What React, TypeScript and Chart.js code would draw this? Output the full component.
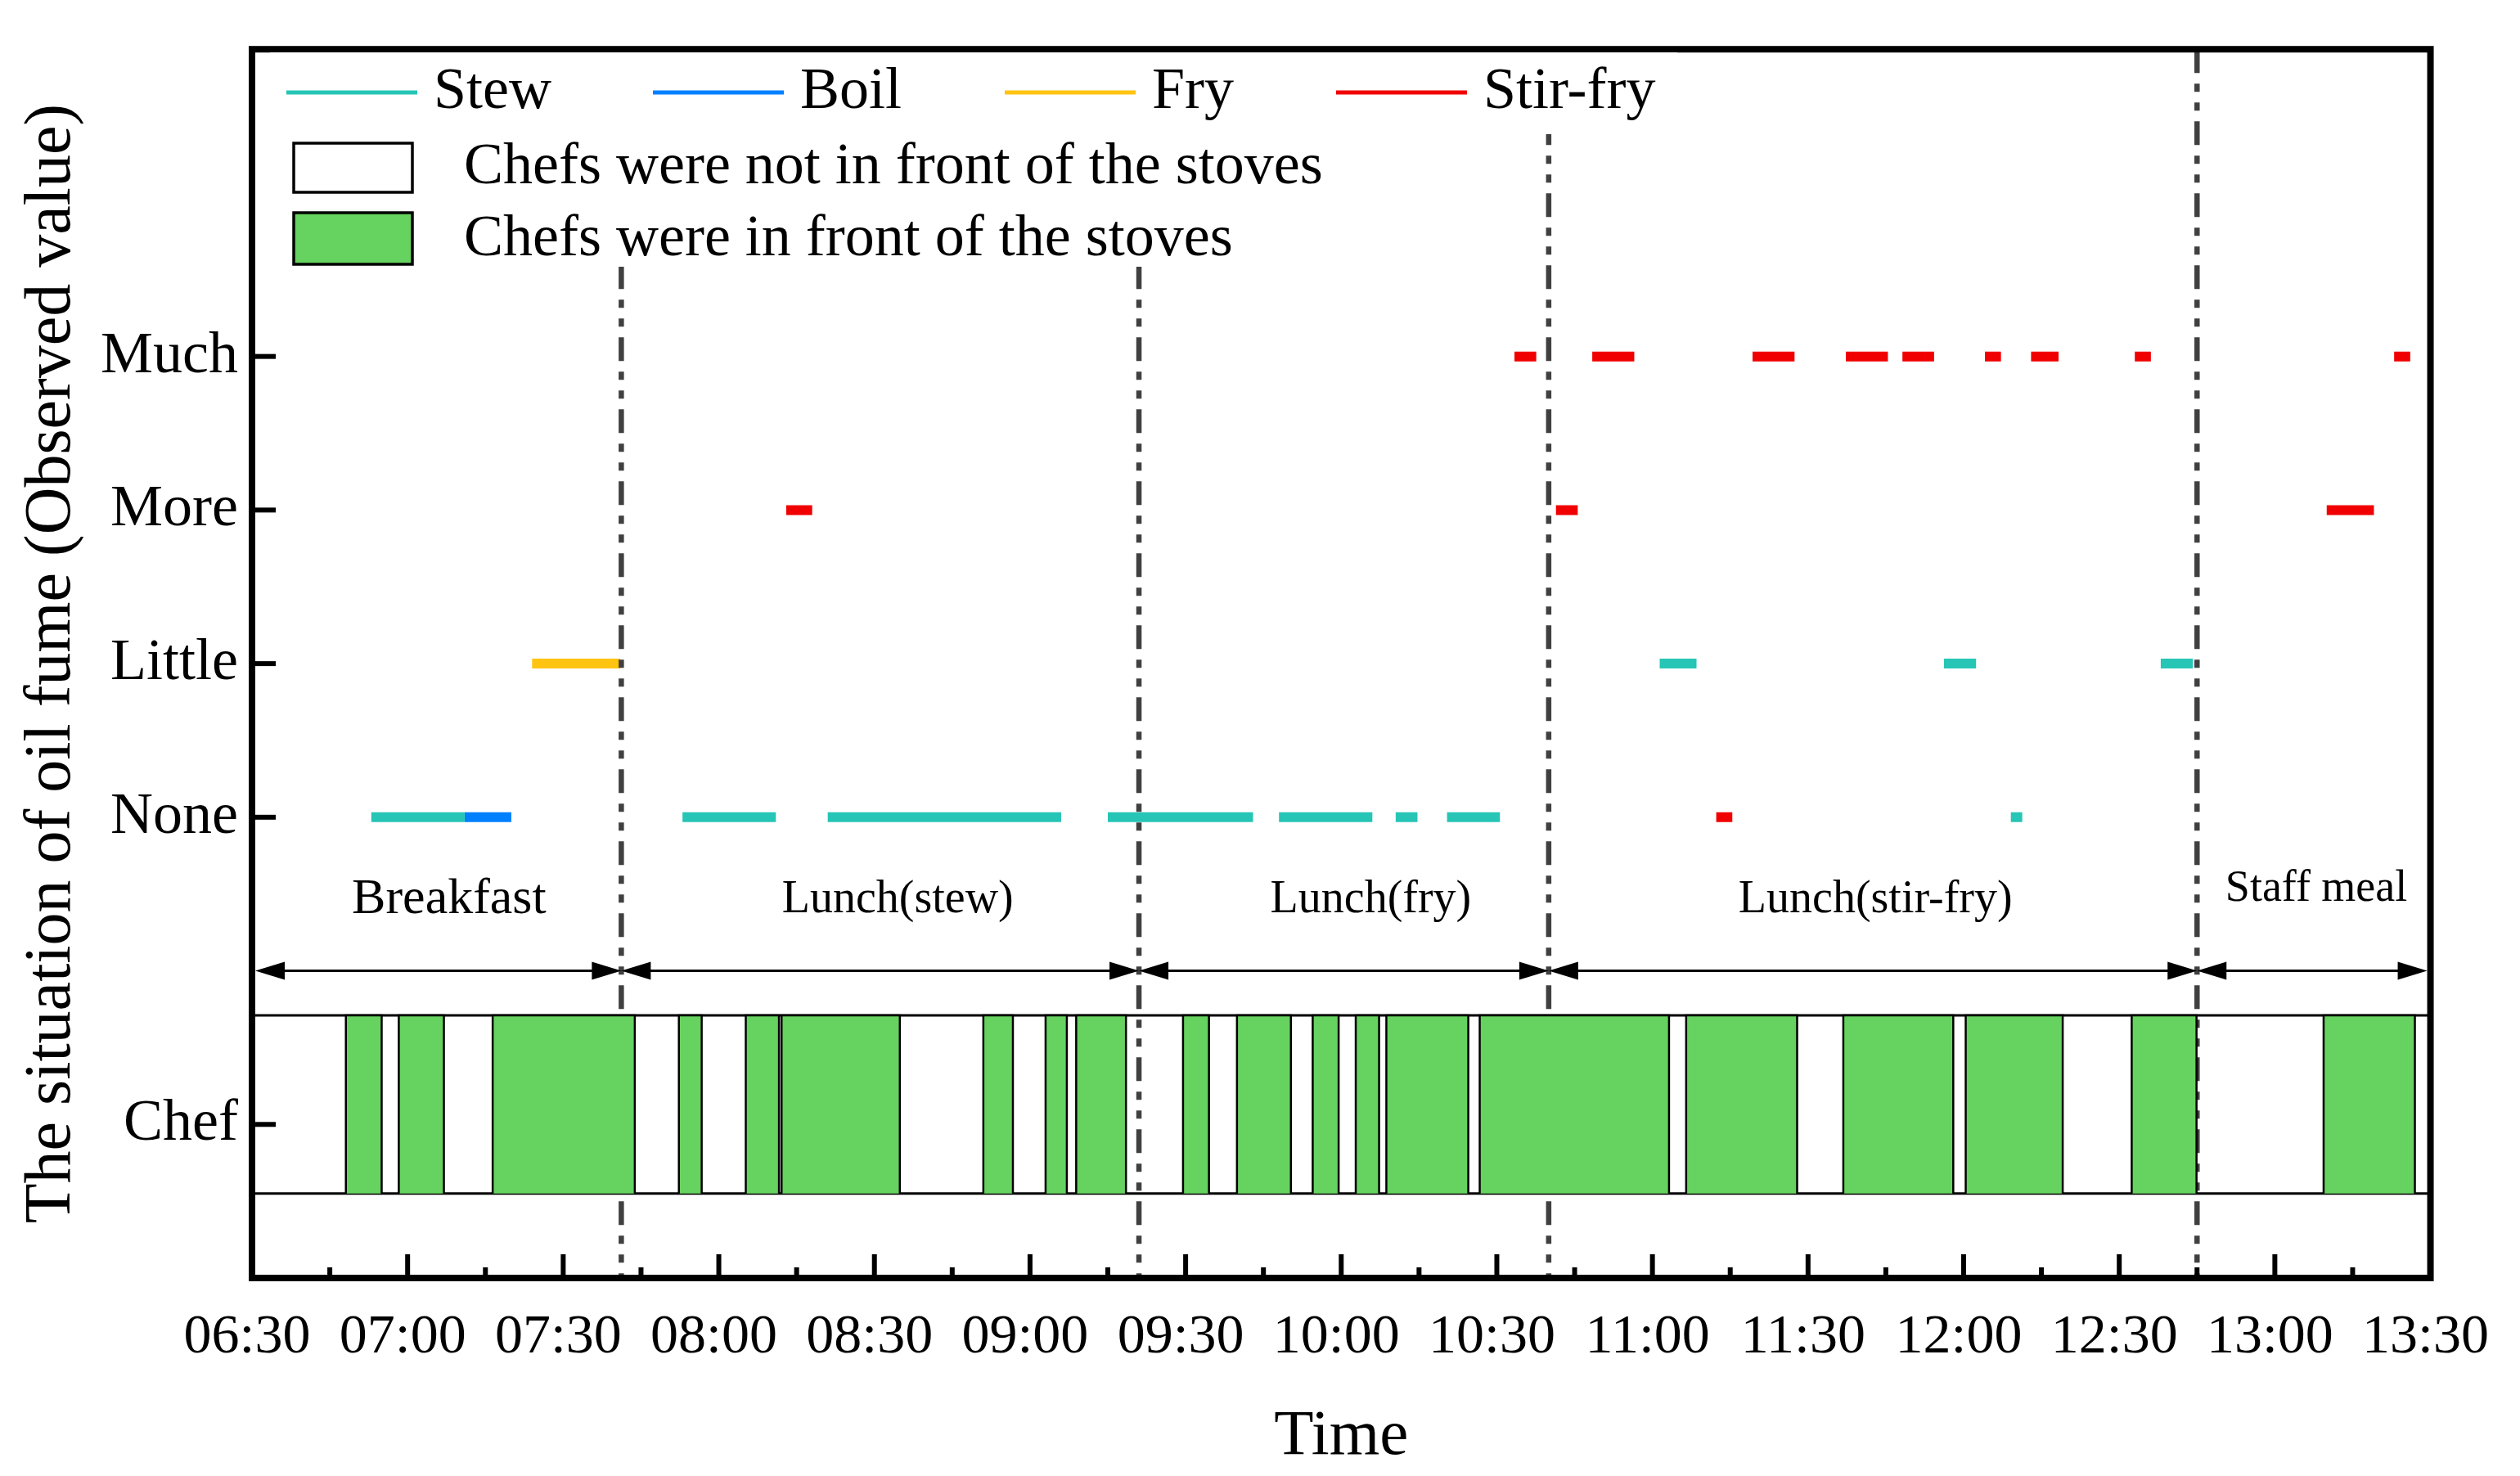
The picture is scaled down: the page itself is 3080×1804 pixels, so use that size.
import React, { useEffect, useRef } from 'react';
import { Chart, registerables } from 'chart.js';

// ---------------- data ----------------
const levelNames = ['Chef', 'None', 'Little', 'More', 'Much'];
const levelValues = [-2, 0, 1, 2, 3];

const xStart = '06:30';
const xEnd = '13:30';
const xMajorStepMin = 30;
const xMinorStepMin = 15;

// [start, end, level]
const stewSegments: [string, string, string][] = [
  ['06:53', '07:11', 'None'],
  ['07:53', '08:11', 'None'],
  ['08:21', '09:06', 'None'],
  ['09:15', '09:43', 'None'],
  ['09:48', '10:06', 'None'],
  ['10:10.5', '10:14.7', 'None'],
  ['10:20.4', '10:30.6', 'None'],
  ['11:01.4', '11:08.5', 'Little'],
  ['11:56.2', '12:02.4', 'Little'],
  ['12:09.1', '12:11.3', 'None'],
  ['12:38', '12:44.2', 'Little'],
];
const boilSegments: [string, string, string][] = [['07:11', '07:20', 'None']];
const frySegments: [string, string, string][] = [['07:24', '07:41', 'Little']];
const stirFrySegments: [string, string, string][] = [
  ['08:13', '08:18', 'More'],
  ['10:33.4', '10:37.6', 'Much'],
  ['10:41.4', '10:45.6', 'More'],
  ['10:48.4', '10:56.5', 'Much'],
  ['11:12.3', '11:15.4', 'None'],
  ['11:19.3', '11:27.4', 'Much'],
  ['11:37.3', '11:45.4', 'Much'],
  ['11:48.2', '11:54.3', 'Much'],
  ['12:04.1', '12:07.2', 'Much'],
  ['12:13', '12:18.3', 'Much'],
  ['12:33', '12:36.1', 'Much'],
  ['13:10', '13:19.1', 'More'],
  ['13:23', '13:26.1', 'Much'],
];

// chefs in front of the stoves
const chefAtStove: [string, string][] = [
  ['06:48.1', '06:55'],
  ['06:58.3', '07:07'],
  ['07:16.4', '07:43.8'],
  ['07:52.3', '07:56.7'],
  ['08:05.2', '08:11.6'],
  ['08:12.1', '08:34.9'],
  ['08:51', '08:56.7'],
  ['09:03', '09:07.1'],
  ['09:08.9', '09:18.5'],
  ['09:29.5', '09:34.5'],
  ['09:39.9', '09:50.3'],
  ['09:54.5', '09:59.5'],
  ['10:02.8', '10:07.3'],
  ['10:08.7', '10:24.5'],
  ['10:26.7', '11:03.2'],
  ['11:06.5', '11:27.9'],
  ['11:36.8', '11:58'],
  ['12:00.4', '12:19.1'],
  ['12:32.4', '12:44.9'],
  ['13:09.4', '13:27'],
];
const chefBandTop = -1.29;
const chefBandBottom = -2.45;

const phaseBounds = ['06:30', '07:41.2', '09:21', '10:40', '12:45', '13:30'];
const phaseNames = ['Breakfast', 'Lunch(stew)', 'Lunch(fry)', 'Lunch(stir-fry)', 'Staff meal'];
const phaseLabelTimes = ['07:08', '08:34.5', '10:05.7', '11:43', '13:08'];
const phaseLabelLevels = [-0.54, -0.54, -0.54, -0.54, -0.47];
const phaseLabelSizes = [62, 56, 56, 56, 54];
const phaseArrowLevel = -1.0;

const seriesNames = ['Stew', 'Boil', 'Fry', 'Stir-fry'];
const seriesColors = ['#26C5B6', '#0080FF', '#FFC312', '#F00000'];
const chefColor = '#66D25F';
const legendBoxLabels = ['Chefs were not in front of the stoves', 'Chefs were in front of the stoves'];

// ---------------- helpers ----------------
const W = 3080;
const H = 1804;
const FONT = '"Liberation Serif", "Times New Roman", serif';
const CHEF_INDEX = 4;

const toMin = (s: string) => {
  const [h, m] = s.split(':');
  return Number(h) * 60 + parseFloat(m);
};
const pad = (n: number) => String(Math.floor(n)).padStart(2, '0');
const fmt = (v: number) => `${pad(v / 60)}:${pad(v % 60)}`;
const levelOf = (name: string) => levelValues[levelNames.indexOf(name)];

const segData = (list: [string, string, string][]) =>
  [...list]
    .sort((a, b) => toMin(a[0]) - toMin(b[0]))
    .flatMap(([s, e, l]) => {
      const y = levelOf(l);
      return [
        { x: toMin(s), y },
        { x: toMin(e), y },
        { x: toMin(e), y: null as any },
      ];
    });

const chefData = chefAtStove.flatMap(([s, e]) => [
  { x: toMin(s), y: chefBandBottom },
  { x: toMin(s), y: chefBandTop },
  { x: toMin(e), y: chefBandTop },
  { x: toMin(e), y: chefBandBottom },
  { x: toMin(e), y: null as any },
]);

const overlayPlugin = {
  id: 'overlay',
  beforeDatasetsDraw(chart: any) {
    const { ctx, chartArea: a, scales } = chart;
    const y = scales.y;
    ctx.save();
    ctx.strokeStyle = '#000';
    ctx.lineWidth = 3;
    for (const v of [chefBandTop, chefBandBottom]) {
      const py = y.getPixelForValue(v);
      ctx.beginPath();
      ctx.moveTo(a.left, py);
      ctx.lineTo(a.right, py);
      ctx.stroke();
    }
    ctx.restore();
  },
  beforeDatasetDraw(chart: any, args: any) {
    if (args.index !== CHEF_INDEX) return;
    const { ctx, chartArea: a, scales } = chart;
    const x = scales.x;
    ctx.save();
    ctx.strokeStyle = '#404040';
    ctx.lineWidth = 6.5;
    ctx.setLineDash([29, 13, 10, 13, 10, 13]);
    for (let i = 1; i < phaseBounds.length - 1; i++) {
      const px = x.getPixelForValue(toMin(phaseBounds[i]));
      ctx.beginPath();
      ctx.moveTo(px, a.top);
      ctx.lineTo(px, a.bottom);
      ctx.stroke();
    }
    ctx.restore();
  },
  afterDatasetsDraw(chart: any) {
    const { ctx, chartArea: a, scales } = chart;
    const x = scales.x;
    const y = scales.y;
    ctx.save();
    // phase arrows
    const ay = y.getPixelForValue(phaseArrowLevel);
    const headL = 36;
    const headW = 11;
    ctx.strokeStyle = '#000';
    ctx.fillStyle = '#000';
    ctx.lineWidth = 3;
    for (let i = 0; i < phaseBounds.length - 1; i++) {
      const x1 = x.getPixelForValue(toMin(phaseBounds[i])) + (i === 0 ? 4 : 0);
      const x2 = x.getPixelForValue(toMin(phaseBounds[i + 1])) - (i === phaseBounds.length - 2 ? 4 : 0);
      ctx.beginPath();
      ctx.moveTo(x1 + headL * 0.5, ay);
      ctx.lineTo(x2 - headL * 0.5, ay);
      ctx.stroke();
      ctx.beginPath();
      ctx.moveTo(x1, ay);
      ctx.lineTo(x1 + headL, ay - headW);
      ctx.lineTo(x1 + headL, ay + headW);
      ctx.closePath();
      ctx.fill();
      ctx.beginPath();
      ctx.moveTo(x2, ay);
      ctx.lineTo(x2 - headL, ay - headW);
      ctx.lineTo(x2 - headL, ay + headW);
      ctx.closePath();
      ctx.fill();
    }
    // phase labels
    ctx.textAlign = 'center';
    ctx.textBaseline = 'middle';
    for (let i = 0; i < phaseNames.length; i++) {
      ctx.font = `${phaseLabelSizes[i]}px ${FONT}`;
      ctx.fillText(
        phaseNames[i],
        x.getPixelForValue(toMin(phaseLabelTimes[i])),
        y.getPixelForValue(phaseLabelLevels[i])
      );
    }
    // inward ticks
    ctx.lineWidth = 6;
    const t0 = toMin(xStart);
    const t1 = toMin(xEnd);
    for (let t = t0; t <= t1 + 0.01; t += xMinorStepMin) {
      const px = x.getPixelForValue(t);
      const len = (t - t0) % xMajorStepMin === 0 ? 29 : 13;
      ctx.beginPath();
      ctx.moveTo(px, a.bottom);
      ctx.lineTo(px, a.bottom - len);
      ctx.stroke();
    }
    for (const v of levelValues) {
      const py = y.getPixelForValue(v);
      ctx.beginPath();
      ctx.moveTo(a.left, py);
      ctx.lineTo(a.left + 29, py);
      ctx.stroke();
    }
    // frame
    ctx.lineWidth = 8;
    ctx.strokeRect(a.left, a.top, a.right - a.left, a.bottom - a.top);
    ctx.restore();
  },
  afterDraw(chart: any) {
    const { ctx } = chart;
    ctx.save();
    // legend backgrounds
    ctx.fillStyle = '#fff';
    ctx.fillRect(330, 64, 1720, 100);
    ctx.fillRect(330, 164, 1300, 162);
    ctx.font = `72px ${FONT}`;
    ctx.textBaseline = 'middle';
    ctx.textAlign = 'left';
    const lineStarts = [350, 798, 1228, 1633];
    const ly = 113;
    for (let i = 0; i < seriesNames.length; i++) {
      ctx.strokeStyle = seriesColors[i];
      ctx.lineWidth = 5;
      ctx.beginPath();
      ctx.moveTo(lineStarts[i], ly);
      ctx.lineTo(lineStarts[i] + 160, ly);
      ctx.stroke();
      ctx.fillStyle = '#000';
      ctx.fillText(seriesNames[i], lineStarts[i] + 180, ly);
    }
    const boxes = [
      { y0: 175, y1: 235, fill: '#fff', ty: 205 },
      { y0: 260, y1: 323, fill: chefColor, ty: 293 },
    ];
    boxes.forEach((b, i) => {
      ctx.fillStyle = b.fill;
      ctx.fillRect(359, b.y0, 145, b.y1 - b.y0);
      ctx.strokeStyle = '#000';
      ctx.lineWidth = 3.5;
      ctx.strokeRect(359, b.y0, 145, b.y1 - b.y0);
      ctx.fillStyle = '#000';
      ctx.fillText(legendBoxLabels[i], 567, b.ty);
    });
    ctx.restore();
  },
};

Chart.register(overlayPlugin as any);
Chart.register(...registerables);

export default function App() {
  const ref = useRef<HTMLCanvasElement>(null);
  useEffect(() => {
    const canvas = ref.current;
    if (!canvas) return;
    const lineDs = (i: number, data: any[]) => ({
      type: 'line' as const,
      label: seriesNames[i],
      data,
      borderColor: seriesColors[i],
      backgroundColor: seriesColors[i],
      borderWidth: 12,
      borderCapStyle: 'butt' as const,
      pointRadius: 0,
      pointHoverRadius: 0,
      spanGaps: false,
      fill: false,
      tension: 0,
      order: 1,
    });
    const chart = new Chart(canvas, {
      type: 'line',
      data: {
        datasets: [
          lineDs(0, segData(stewSegments)),
          lineDs(1, segData(boilSegments)),
          lineDs(2, segData(frySegments)),
          lineDs(3, segData(stirFrySegments)),
          {
            type: 'line',
            label: 'Chef',
            data: chefData,
            borderColor: '#000',
            backgroundColor: chefColor,
            borderWidth: 2.5,
            borderJoinStyle: 'miter',
            pointRadius: 0,
            pointHoverRadius: 0,
            spanGaps: false,
            fill: { value: chefBandBottom },
            tension: 0,
            order: 0,
          } as any,
        ],
      },
      options: {
        responsive: false,
        animation: false,
        devicePixelRatio: 1,
        events: [],
        layout: { padding: { top: 57, right: 80, bottom: 0, left: 0 } },
        plugins: {
          legend: { display: false },
          tooltip: { enabled: false },
        },
        scales: {
          x: {
            type: 'linear',
            min: toMin(xStart),
            max: toMin(xEnd),
            grid: { display: false, drawTicks: false },
            border: { display: false },
            ticks: {
              stepSize: xMajorStepMin,
              autoSkip: false,
              maxRotation: 0,
              padding: 32,
              labelOffset: -6,
              color: '#000',
              font: { family: FONT, size: 68 },
              callback: (v: any) => fmt(Number(v)),
            },
            title: {
              display: true,
              text: 'Time',
              color: '#000',
              font: { family: FONT, size: 79 },
              padding: { top: 0, bottom: 0 },
            },
            afterFit: (s: any) => {
              s.height = 242;
            },
          },
          y: {
            type: 'linear',
            min: -3,
            max: 5,
            grid: { display: false, drawTicks: false },
            border: { display: false },
            afterBuildTicks: (s: any) => {
              s.ticks = levelValues.map((v) => ({ value: v }));
            },
            ticks: {
              autoSkip: false,
              padding: 17,
              color: '#000',
              font: { family: FONT, size: 72 },
              callback: (v: any) => {
                const i = levelValues.indexOf(Number(v));
                return i >= 0 ? levelNames[i] : '';
              },
            },
            title: {
              display: true,
              text: 'The situation of oil fume (Observed value)',
              color: '#000',
              font: { family: FONT, size: 80 },
              padding: { top: 16, bottom: 0 },
            },
            afterFit: (s: any) => {
              s.width = 308;
            },
          },
        },
      },
    });
    return () => chart.destroy();
  }, []);
  return (
    <div style={{ position: 'fixed', left: 0, top: 0, width: W, height: H, background: '#fff' }}>
      <canvas ref={ref} width={W} height={H} style={{ width: W, height: H, display: 'block' }} />
    </div>
  );
}
